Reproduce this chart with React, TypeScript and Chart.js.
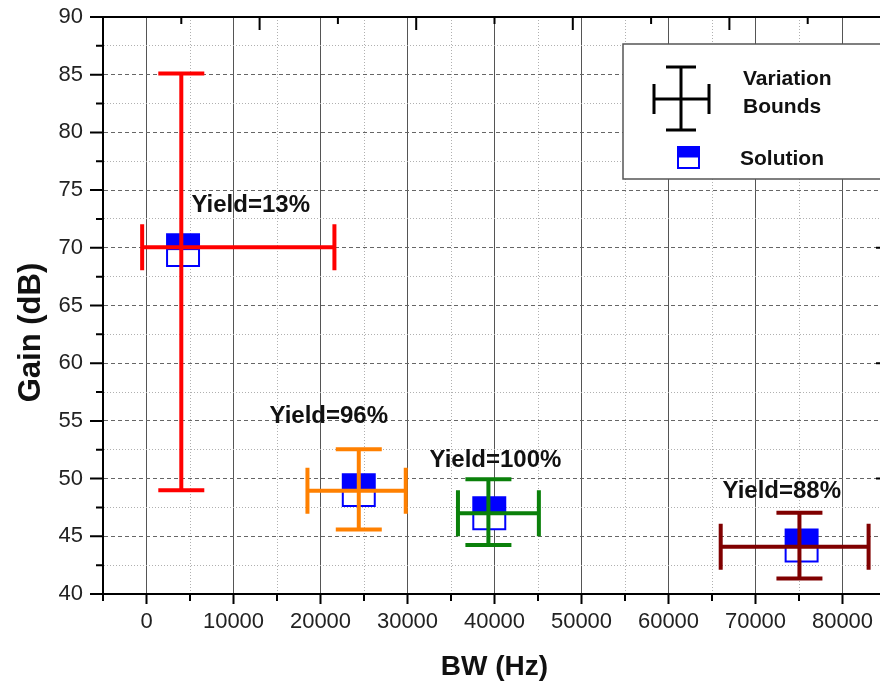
import React, { useEffect, useRef } from 'react';
import { Chart, registerables } from 'chart.js';

Chart.register(...registerables);

// ---- Data -----------------------------------------------------------------
const solutionBW = [4200, 24400, 39400, 75300];
const solutionGain = [69.8, 49.0, 47.0, 44.2];

const boundBW = [4000, 24400, 39300, 75050];
const boundBWLow = [-500, 18500, 35800, 66000];
const boundBWHigh = [21600, 29800, 45100, 83000];
const boundGain = [70.05, 48.95, 47.0, 44.1];
const boundGainLow = [49.0, 45.6, 44.25, 41.35];
const boundGainHigh = [85.1, 52.55, 49.95, 47.05];
const boundColors = ['#ff0000', '#ff8000', '#0a800a', '#800000'];

const yieldLabels = ['Yield=13%', 'Yield=96%', 'Yield=100%', 'Yield=88%'];
const yieldLabelBW = [5170, 14140, 32530, 66210];
const yieldLabelGain = [73.7, 55.35, 51.6, 48.85];

const xTitle = 'BW (Hz)';
const yTitle = 'Gain (dB)';
const legendBoundsLines = ['Variation', 'Bounds'];
const legendSolution = 'Solution';

const xMin = -5000;
const xMax = 85000;
const xStep = 5000;
const xLabelStep = 10000;
const yMin = 40;
const yMax = 90;
const yStep = 2.5;
const yLabelStep = 5;
const topAxisMax = 10;
const rightTickStep = 10;

// ---- Styling --------------------------------------------------------------
const FONT = "'Liberation Sans', Arial, Helvetica, sans-serif";
const SQUARE_RADIUS = 22.6; // rect pointStyle => side = r * sqrt(2)
const BAR_WIDTH = 4;
const CAP_HALF = 23;

const decorPlugin = {
  id: 'decor',
  afterDatasetsDraw(chart: any) {
    const { ctx, chartArea: a, scales } = chart;
    const xs = scales.x;
    const ys = scales.y;
    const xt = scales.xt;
    ctx.save();

    // Top half fill of solution squares
    const meta = chart.getDatasetMeta(0);
    const h = SQUARE_RADIUS * Math.SQRT1_2;
    ctx.fillStyle = '#0000ff';
    meta.data.forEach((pt: any) => {
      ctx.fillRect(pt.x - h, pt.y - h, 2 * h, h);
    });

    // Error bars (variation bounds)
    ctx.lineWidth = BAR_WIDTH;
    ctx.lineCap = 'butt';
    boundBW.forEach((bw, i) => {
      const cx = xs.getPixelForValue(bw);
      const cy = ys.getPixelForValue(boundGain[i]);
      const x1 = xs.getPixelForValue(boundBWLow[i]);
      const x2 = xs.getPixelForValue(boundBWHigh[i]);
      const y1 = ys.getPixelForValue(boundGainHigh[i]);
      const y2 = ys.getPixelForValue(boundGainLow[i]);
      ctx.strokeStyle = boundColors[i];
      ctx.beginPath();
      ctx.moveTo(cx, y1);
      ctx.lineTo(cx, y2);
      ctx.moveTo(x1, cy);
      ctx.lineTo(x2, cy);
      ctx.moveTo(cx - CAP_HALF, y1);
      ctx.lineTo(cx + CAP_HALF, y1);
      ctx.moveTo(cx - CAP_HALF, y2);
      ctx.lineTo(cx + CAP_HALF, y2);
      ctx.moveTo(x1, cy - CAP_HALF);
      ctx.lineTo(x1, cy + CAP_HALF);
      ctx.moveTo(x2, cy - CAP_HALF);
      ctx.lineTo(x2, cy + CAP_HALF);
      ctx.stroke();
    });

    // Yield labels
    ctx.fillStyle = '#111';
    ctx.font = `bold 24px ${FONT}`;
    ctx.textAlign = 'left';
    ctx.textBaseline = 'middle';
    yieldLabels.forEach((t, i) => {
      ctx.fillText(t, xs.getPixelForValue(yieldLabelBW[i]), ys.getPixelForValue(yieldLabelGain[i]));
    });

    // Frame: top and right border
    ctx.strokeStyle = '#000';
    ctx.lineWidth = 2;
    ctx.beginPath();
    ctx.moveTo(a.left - 1, a.top);
    ctx.lineTo(a.right, a.top);
    ctx.moveTo(a.right, a.top);
    ctx.lineTo(a.right, a.bottom);
    ctx.stroke();

    // Tick marks
    ctx.beginPath();
    xs.ticks.forEach((t: any) => {
      const px = xs.getPixelForValue(t.value);
      const len = t.value % xLabelStep === 0 ? 10 : 7;
      ctx.moveTo(px, a.bottom);
      ctx.lineTo(px, a.bottom + len);
    });
    ys.ticks.forEach((t: any) => {
      const py = ys.getPixelForValue(t.value);
      const len = t.value % yLabelStep === 0 ? 13 : 7;
      ctx.moveTo(a.left, py);
      ctx.lineTo(a.left - len, py);
      if (t.value % rightTickStep === 0) {
        ctx.moveTo(a.right, py);
        ctx.lineTo(a.right - 10, py);
      }
    });
    for (let k = 1; k < topAxisMax; k++) {
      const px = xt.getPixelForValue(k);
      const len = k % 2 === 0 ? 13 : 7;
      ctx.moveTo(px, a.top);
      ctx.lineTo(px, a.top + len);
    }
    ctx.stroke();

    // Legend box
    const lx = a.right - 263;
    const ly = a.top + 27;
    const lw = 259;
    const lh = 135;
    ctx.fillStyle = '#fff';
    ctx.fillRect(lx, ly, lw, lh);
    ctx.strokeStyle = '#555';
    ctx.lineWidth = 1.5;
    ctx.strokeRect(lx, ly, lw, lh);

    // legend cross icon
    const ix = lx + 58;
    const iy = ly + 55;
    ctx.strokeStyle = '#000';
    ctx.lineWidth = 3;
    ctx.beginPath();
    ctx.moveTo(ix, iy - 32);
    ctx.lineTo(ix, iy + 31);
    ctx.moveTo(ix - 27, iy);
    ctx.lineTo(ix + 28, iy);
    ctx.moveTo(ix - 15, iy - 32);
    ctx.lineTo(ix + 15, iy - 32);
    ctx.moveTo(ix - 15, iy + 31);
    ctx.lineTo(ix + 15, iy + 31);
    ctx.moveTo(ix - 27, iy - 15);
    ctx.lineTo(ix - 27, iy + 15);
    ctx.moveTo(ix + 28, iy - 15);
    ctx.lineTo(ix + 28, iy + 15);
    ctx.stroke();

    // legend square icon
    const sx = lx + 55;
    const sy = ly + 103;
    ctx.fillStyle = '#fff';
    ctx.fillRect(sx, sy, 21, 21);
    ctx.fillStyle = '#0000ff';
    ctx.fillRect(sx, sy, 21, 10.5);
    ctx.strokeStyle = '#0000ff';
    ctx.lineWidth = 2;
    ctx.strokeRect(sx, sy, 21, 21);

    ctx.fillStyle = '#111';
    ctx.font = `bold 21px ${FONT}`;
    ctx.textAlign = 'left';
    ctx.textBaseline = 'middle';
    ctx.fillText(legendBoundsLines[0], lx + 120, ly + 35);
    ctx.fillText(legendBoundsLines[1], lx + 120, ly + 63);
    ctx.fillText(legendSolution, lx + 117, ly + 115);

    // Axis titles
    ctx.fillStyle = '#111';
    ctx.font = `bold 28px ${FONT}`;
    ctx.textAlign = 'center';
    ctx.textBaseline = 'alphabetic';
    ctx.fillText(xTitle, (a.left + a.right) / 2, a.bottom + 81);

    ctx.save();
    ctx.translate(a.left - 63, (a.top + a.bottom) / 2 + 27);
    ctx.rotate(-Math.PI / 2);
    ctx.font = `bold 31px ${FONT}`;
    ctx.fillText(yTitle, 0, 0);
    ctx.restore();

    ctx.restore();
  },
};

export default function App() {
  const canvasRef = useRef<HTMLCanvasElement | null>(null);

  useEffect(() => {
    const canvas = canvasRef.current;
    if (!canvas) return;
    const chart = new Chart(canvas, {
      type: 'scatter',
      data: {
        datasets: [
          {
            label: legendSolution,
            data: solutionBW.map((b, i) => ({ x: b, y: solutionGain[i] })),
            pointStyle: 'rect',
            pointRadius: SQUARE_RADIUS,
            pointHoverRadius: SQUARE_RADIUS,
            borderColor: '#0000ff',
            backgroundColor: '#ffffff',
            borderWidth: 2,
          },
        ],
      },
      options: {
        animation: false,
        responsive: false,
        events: [],
        layout: { autoPadding: false, padding: { top: 17, right: 10, left: 0, bottom: 0 } },
        plugins: { legend: { display: false }, tooltip: { enabled: false } },
        scales: {
          x: {
            type: 'linear',
            position: 'bottom',
            min: xMin,
            max: xMax,
            ticks: {
              stepSize: xStep,
              autoSkip: false,
              maxRotation: 0,
              minRotation: 0,
              padding: 15,
              color: '#222',
              font: { family: FONT, size: 22 },
              callback: (v: any) => (v % xLabelStep === 0 && v >= 0 && v < xMax ? String(v) : ''),
            },
            grid: {
              drawTicks: false,
              lineWidth: 1,
              color: (c: any) => (c.tick && c.tick.value % xLabelStep === 0 ? '#555555' : '#b0b0b0'),
            },
            border: {
              display: true,
              color: '#000',
              width: 2,
              dash: (c: any) => (c.tick && c.tick.value % xLabelStep !== 0 ? [1, 2] : []),
            },
            afterFit: (s: any) => {
              s.height = 96;
              s.paddingLeft = 0;
              s.paddingRight = 0;
              s.paddingTop = 0;
              s.paddingBottom = 0;
            },
          },
          xt: {
            type: 'linear',
            position: 'top',
            display: false,
            min: 0,
            max: topAxisMax,
          },
          y: {
            type: 'linear',
            position: 'left',
            min: yMin,
            max: yMax,
            ticks: {
              stepSize: yStep,
              autoSkip: false,
              padding: 20,
              color: '#222',
              font: { family: FONT, size: 22 },
              callback: (v: any) => (v % yLabelStep === 0 ? String(v) : ''),
            },
            grid: {
              drawTicks: false,
              lineWidth: 1,
              color: (c: any) => (c.tick && c.tick.value % yLabelStep === 0 ? '#666666' : '#b0b0b0'),
            },
            border: {
              display: true,
              color: '#000',
              width: 2,
              dash: (c: any) => {
                if (!c.tick) return [];
                return c.tick.value % yLabelStep === 0 ? [4, 3] : [1, 2];
              },
            },
            afterFit: (s: any) => {
              s.width = 103;
              s.paddingLeft = 0;
              s.paddingRight = 0;
              s.paddingTop = 0;
              s.paddingBottom = 0;
            },
          },
        },
      } as any,
      plugins: [decorPlugin],
    });
    return () => chart.destroy();
  }, []);

  return (
    <div
      style={{
        position: 'absolute',
        left: 0,
        top: 0,
        width: 880,
        height: 690,
        overflow: 'hidden',
        background: '#fff',
      }}
    >
      <canvas ref={canvasRef} width={896} height={690} style={{ display: 'block', width: 896, height: 690 }} />
    </div>
  );
}
